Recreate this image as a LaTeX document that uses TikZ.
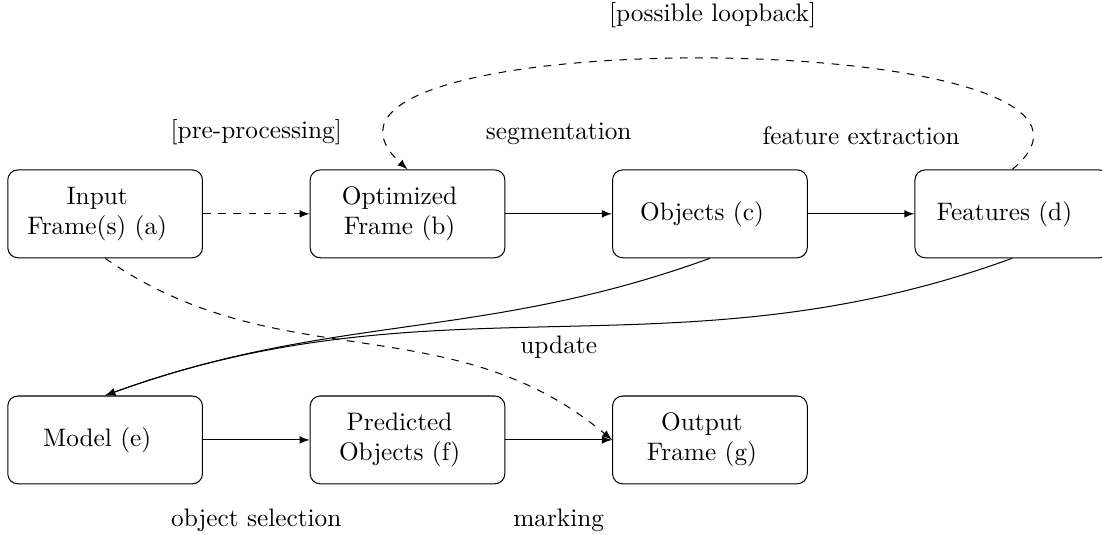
\documentclass[tikz,border=0pt]{standalone}
\begin{document}
\begin{tikzpicture}[>=latex,
  stage/.style={draw,rounded corners=4pt,minimum width=2.7cm,minimum height=1.22cm,
    text width=2.47cm,align=center,
    execute at begin node={\leftskip=0pt plus 1fil\rightskip=0.22cm plus 1fil\parfillskip=0pt}}]
  \useasboundingbox (0,0) rectangle (15.306,-7.417);
  \node[stage] (input) at (1.46,-2.97) {Input\\Frame(s) (a)};
  \node[stage] (optim) at (5.66,-2.97) {Optimized\\Frame (b)};
  \node[stage] (objs) at (9.86,-2.97) {Objects (c)};
  \node[stage] (feats) at (14.06,-2.97) {Features (d)};
  % lower row
  \node[stage] (model) at (1.46,-6.11) {Model (e)};
  \node[stage] (pred) at (5.66,-6.11) {Predicted\\Objects (f)};
  \node[stage] (output) at (9.86,-6.11) {Output\\Frame (g)};
  \draw[->,dashed] (input) -- (optim) node[midway,above=0.83cm] {[pre-processing]};
  \draw[->] (optim) -- (objs) node[midway,above=0.83cm] {segmentation};
  \draw[->] (objs) -- (feats) node[midway,above=0.83cm] {feature extraction};
  \draw[->,dashed] (feats.north) .. controls +(2.4,2.0) and +(-2.3,2.1) .. (optim.north)
    node[midway,above=0.3cm] {[possible loopback]};
  % feedback into the model
  \draw[->] (objs.south) to[out=200,in=20] (model.north);
  \draw[->] (feats.south) to[out=200,in=20] node[midway,below] {update} (model.north);
  \draw[->,dashed] (input.south) to[out=-35,in=140] (output.west);
  \draw[->] (model) -- (pred) node[midway,below=0.83cm] {object selection};
  \draw[->] (pred) -- (output) node[midway,below=0.83cm] {marking};
\end{tikzpicture}
\end{document}
